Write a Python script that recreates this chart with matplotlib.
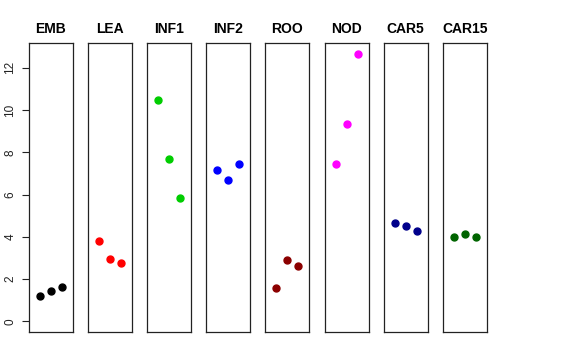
import matplotlib

matplotlib.use("Agg")
import matplotlib.pyplot as plt  # noqa: E402

plt.rcParams["font.family"] = ["Liberation Sans", "DejaVu Sans"]

tissues = ["EMB", "LEA", "INF1", "INF2", "ROO", "NOD", "CAR5", "CAR15"]
colors = ["#000000", "#FF0000", "#00CD00", "#0000FF",
          "#8B0000", "#FF00FF", "#00008B", "#006400"]
reps = [1, 2, 3]
values = [
    [1.19, 1.43, 1.62],
    [3.81, 2.95, 2.76],
    [10.50, 7.70, 5.86],
    [7.14, 6.71, 7.43],
    [1.57, 2.90, 2.62],
    [7.43, 9.33, 12.67],
    [4.67, 4.52, 4.29],
    [4.00, 4.14, 4.00],
]
yticks = [0, 2, 4, 6, 8, 10, 12]

W, H = 576, 360
fig = plt.figure(figsize=(W / 100, H / 100), dpi=100)
fig.patch.set_facecolor("white")

ymax = max(max(v) for v in values)
pad = 0.04 * ymax
left0, step, width = 29, 59.1, 44
top, bottom = 43, 332

for i, (name, col, vals) in enumerate(zip(tissues, colors, values)):
    x0 = left0 + i * step
    ax = fig.add_axes([x0 / W, 1 - bottom / H, width / W, (bottom - top) / H])
    ax.plot(reps, vals, "o", color=col, ms=5, mec=col)
    ax.set_xlim(0, 4)
    ax.set_ylim(-pad, ymax + pad)
    ax.set_xticks([])
    for s in ax.spines.values():
        s.set_linewidth(0.9)
        s.set_color("#222222")
    ax.set_title(name, fontsize=10, fontweight="bold", pad=7)
    if i == 0:
        ax.set_yticks(yticks)
        ax.set_yticklabels([str(t) for t in yticks], rotation=90,
                           va="center", fontsize=8.5)
        ax.tick_params(axis="y", length=5, width=0.8, pad=4, colors="#222222")
    else:
        ax.set_yticks([])

fig.savefig("out.png", dpi=100)
